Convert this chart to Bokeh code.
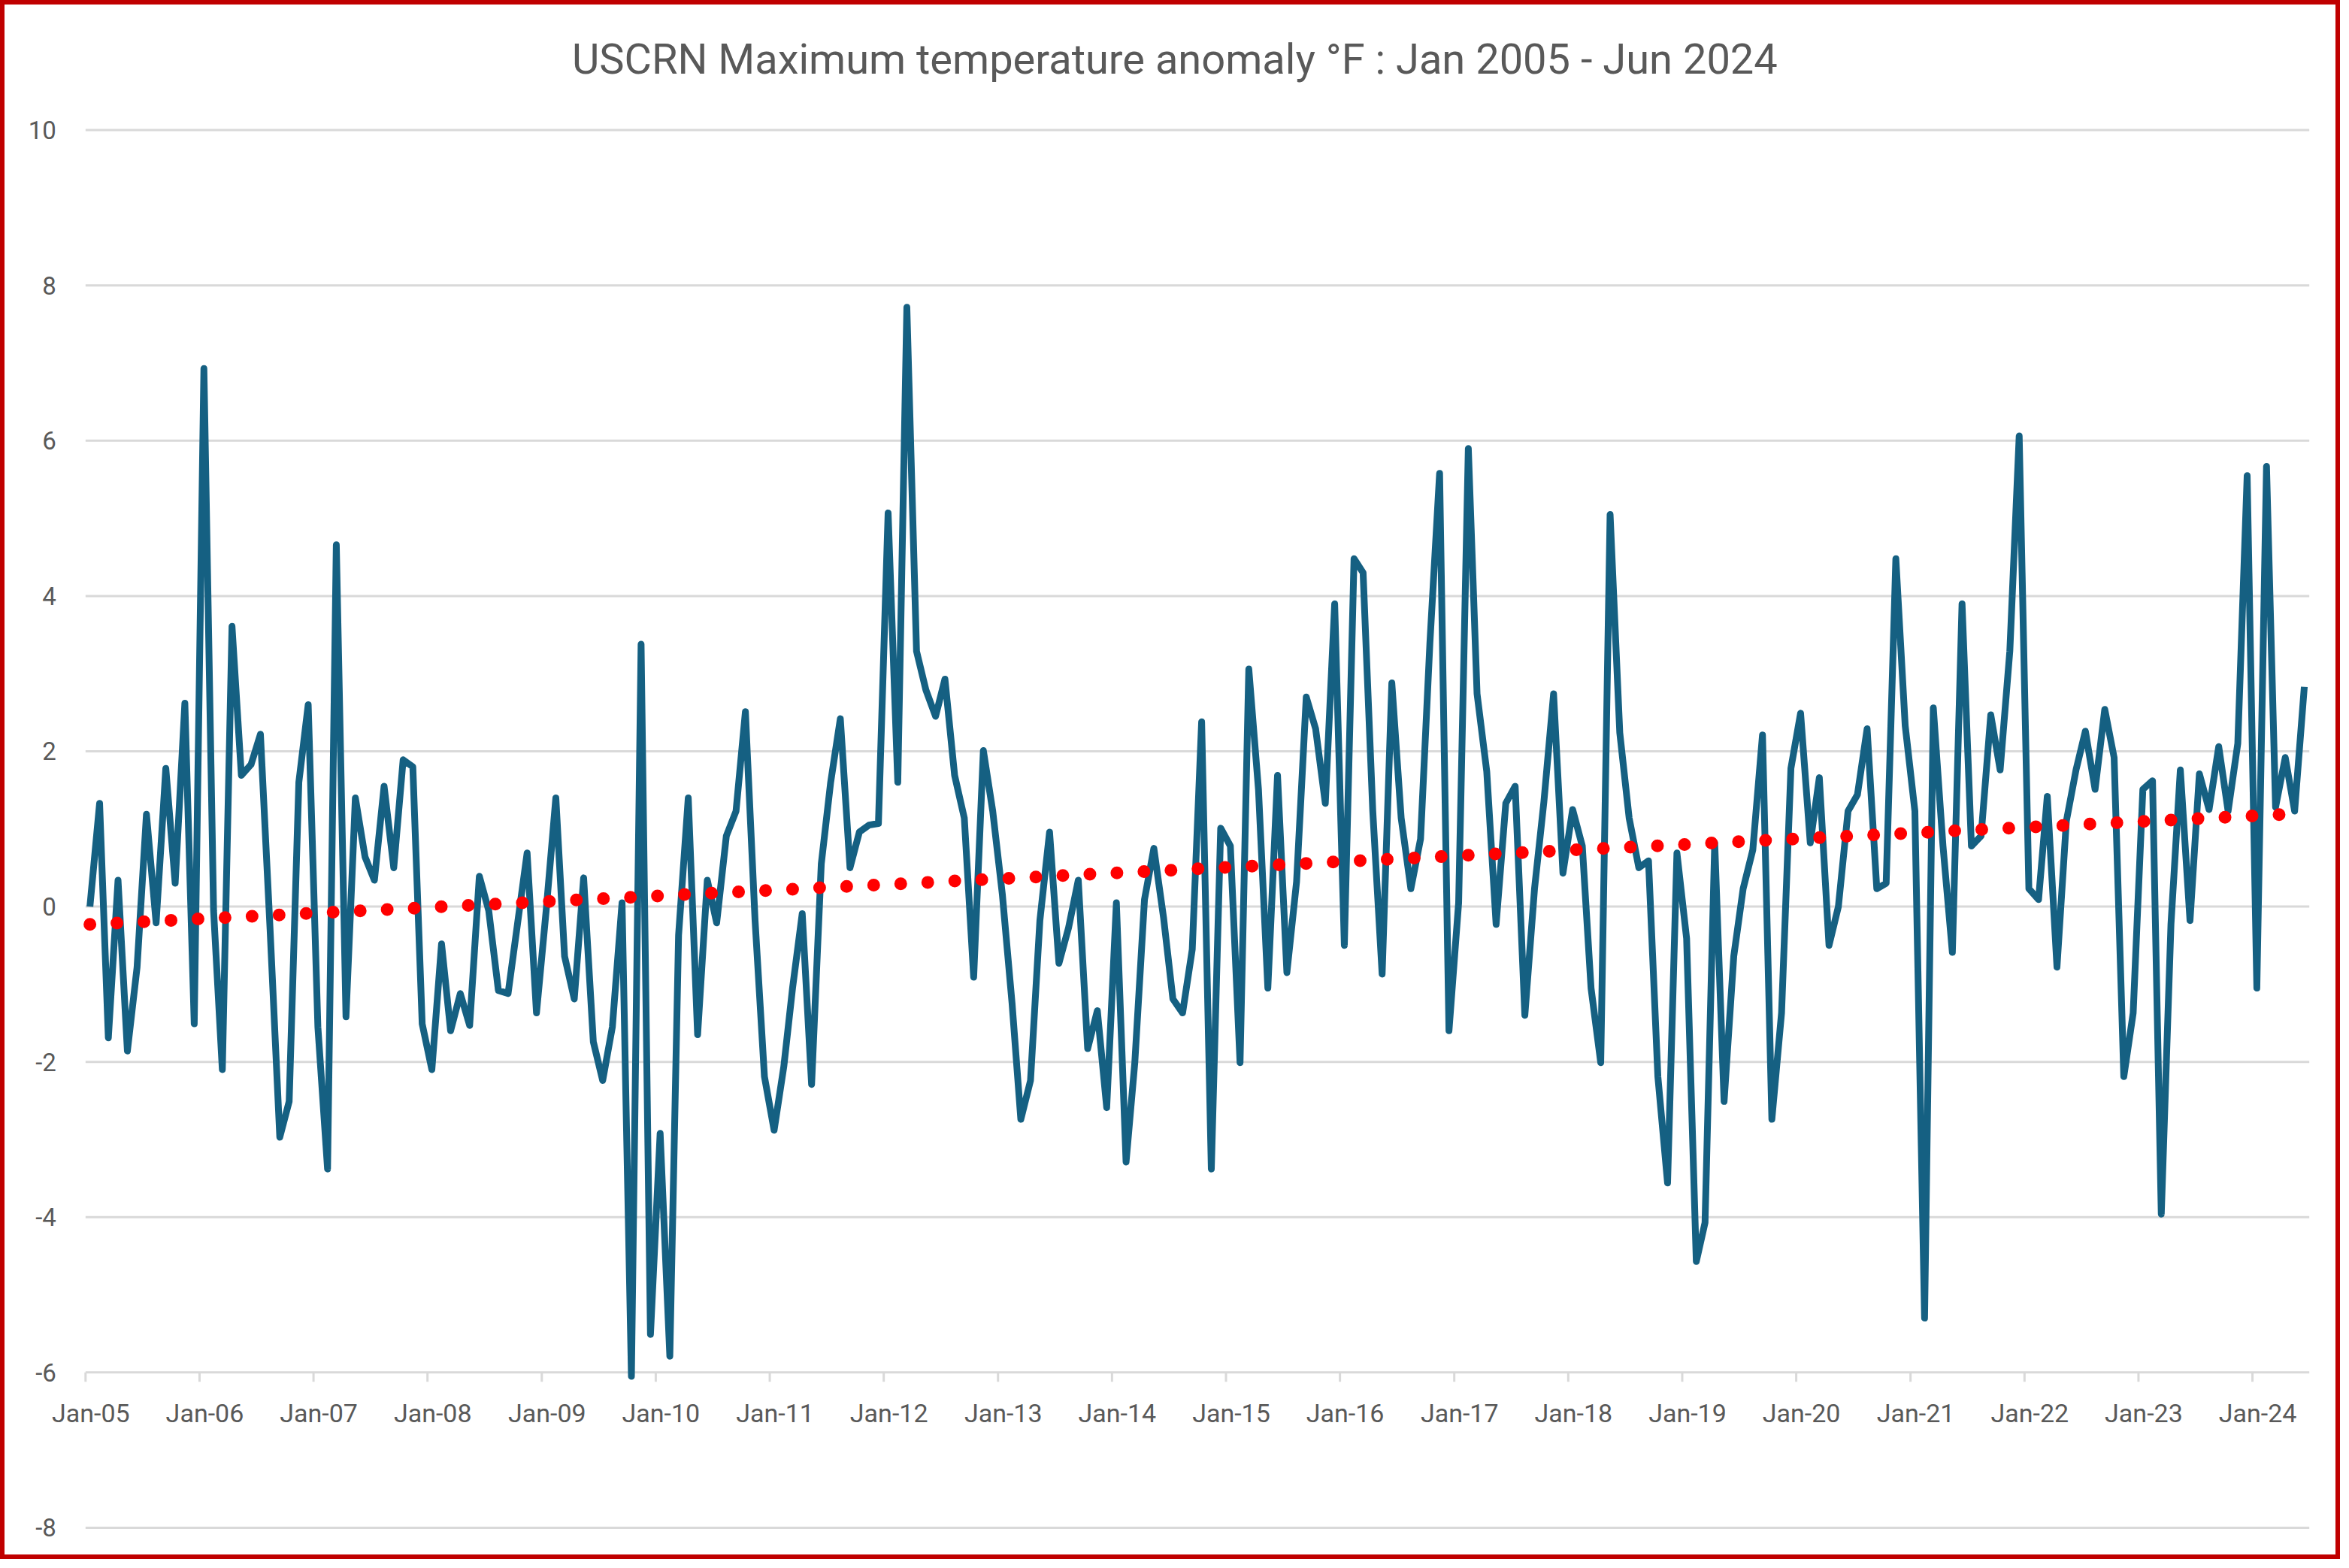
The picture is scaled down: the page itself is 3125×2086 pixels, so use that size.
from datetime import datetime, timedelta
import numpy as np
from bokeh.plotting import figure
from bokeh.models import Range1d
from bokeh.embed import file_html
from bokeh.resources import INLINE
from bokeh.core.properties import value

# ---------------- data ----------------
title_text = "USCRN Maximum temperature anomaly °F : Jan 2005 - Jun 2024"
start_year = 2005
start_month = 1
anomaly = [
    # 2005
    0.00, 1.33, -1.69, 0.34, -1.86, -0.78, 1.19, -0.21, 1.78, 0.30, 2.62, -1.51,
    # 2006
    6.93, -0.05, -2.10, 3.61, 1.69, 1.83, 2.22, -0.30, -2.97, -2.51, 1.60, 2.60,
    # 2007
    -1.55, -3.38, 4.66, -1.42, 1.40, 0.64, 0.34, 1.55, 0.50, 1.89, 1.80, -1.51,
    # 2008
    -2.10, -0.48, -1.60, -1.12, -1.53, 0.39, -0.05, -1.08, -1.12, -0.23, 0.69, -1.37,
    # 2009
    -0.05, 1.40, -0.64, -1.19, 0.37, -1.74, -2.24, -1.55, 0.05, -6.05, 3.38, -5.51,
    # 2010
    -2.92, -5.79, -0.37, 1.40, -1.65, 0.34, -0.21, 0.91, 1.23, 2.51, -0.18, -2.19,
    # 2011
    -2.88, -2.06, -1.05, -0.09, -2.29, 0.55, 1.60, 2.42, 0.50, 0.96, 1.05, 1.07,
    # 2012
    5.07, 1.60, 7.72, 3.29, 2.79, 2.45, 2.93, 1.69, 1.14, -0.91, 2.01, 1.23,
    # 2013
    0.15, -1.25, -2.74, -2.24, -0.18, 0.96, -0.73, -0.27, 0.34, -1.83, -1.34, -2.59,
    # 2014
    0.05, -3.29, -2.01, 0.09, 0.75, -0.14, -1.19, -1.37, -0.55, 2.38, -3.38, 1.01,
    # 2015
    0.78, -2.01, 3.06, 1.51, -1.05, 1.69, -0.85, 0.32, 2.70, 2.29, 1.33, 3.90,
    # 2016
    -0.50, 4.48, 4.30, 1.23, -0.87, 2.88, 1.14, 0.23, 0.87, 3.40, 5.58, -1.60,
    # 2017
    0.05, 5.90, 2.74, 1.74, -0.23, 1.33, 1.55, -1.40, 0.23, 1.35, 2.74, 0.43,
    # 2018
    1.25, 0.78, -1.05, -2.01, 5.05, 2.24, 1.14, 0.50, 0.59, -2.19, -3.56, 0.69,
    # 2019
    -0.41, -4.57, -4.07, 0.82, -2.51, -0.64, 0.23, 0.73, 2.21, -2.74, -1.37, 1.78,
    # 2020
    2.49, 0.82, 1.66, -0.50, 0.00, 1.23, 1.44, 2.29, 0.23, 0.30, 4.48, 2.33,
    # 2021
    1.23, -5.30, 2.56, 0.78, -0.59, 3.90, 0.78, 0.91, 2.47, 1.76, 3.29, 6.06,
    # 2022
    0.23, 0.09, 1.42, -0.78, 1.10, 1.76, 2.26, 1.51, 2.54, 1.92, -2.19, -1.37,
    # 2023
    1.51, 1.62, -3.96, -0.23, 1.76, -0.18, 1.71, 1.25, 2.06, 1.23, 2.10, 5.55,
    # 2024
    -1.05, 5.67, 1.28, 1.92, 1.23, 2.83,
]
y_ticks = [-8, -6, -4, -2, 0, 2, 4, 6, 8, 10]
y_tick_labels = [str(v) for v in y_ticks]
x_tick_years = list(range(2005, 2025))
x_tick_labels = ["Jan-%02d" % (y % 100) for y in x_tick_years]
x_axis_value = -6
x_start = datetime(2005, 1, 1)
x_end = datetime(2024, 7, 1)

# ---------------- derived ----------------
dates = []
for i in range(len(anomaly)):
    yy = start_year + (start_month - 1 + i) // 12
    mm = (start_month - 1 + i) % 12 + 1
    dates.append(datetime(yy, mm, 15))

t_days = np.array([(d - dates[0]).days for d in dates], dtype=float)
coef = np.polyfit(t_days, np.array(anomaly), 1)
trend_ends = [float(np.polyval(coef, t_days[0])), float(np.polyval(coef, t_days[-1]))]

tick_dates = [datetime(y, 1, 1) for y in x_tick_years]

FONT = "Roboto"
TXT = "#595959"
GRID = "#D9D9D9"

# canvas geometry: the frame fills the whole canvas; ranges padded so
# that the chart area sits where the reference draws it
pad_left = timedelta(days=258.3)
pad_right = timedelta(days=113.9)
p = figure(
    width=3113, height=2074,
    x_range=Range1d(x_start - pad_left, x_end + pad_right),
    y_range=Range1d(-8.465, 11.613),
    x_axis_type="datetime", x_axis_location=None, y_axis_location=None,
    output_backend="svg", toolbar_location=None,
    min_border=0,
    background_fill_color="white", border_fill_color="white",
    outline_line_color=None,
)
p.styles = {"border": "6px solid #C00000"}
for g in p.grid:
    g.visible = False

# horizontal gridlines
p.segment(x0=[x_start] * len(y_ticks), y0=y_ticks,
          x1=[x_end] * len(y_ticks), y1=y_ticks,
          line_color=GRID, line_width=3)

# y tick labels
p.text(x=[x_start] * len(y_ticks), y=y_ticks, text=y_tick_labels,
       x_offset=-39, text_align="right", text_baseline="middle",
       text_font=value(FONT), text_font_size="33px", text_color=TXT)

# x-axis tick marks at the axis crossing value
p.segment(x0=tick_dates, y0=[x_axis_value] * len(tick_dates),
          x1=tick_dates, y1=[x_axis_value - 0.12] * len(tick_dates),
          line_color=GRID, line_width=3)

# x tick labels
p.text(x=tick_dates, y=[x_axis_value] * len(tick_dates), text=x_tick_labels,
       x_offset=7, y_offset=54, text_align="center", text_baseline="alphabetic",
       text_font=value(FONT), text_font_size="34px", text_color=TXT)

# data series
p.line(dates, anomaly, line_color="#156082", line_width=9, line_join="round")

# linear trendline
p.line([dates[0], dates[-1]], trend_ends, line_color="#FF0000", line_width=17,
       line_dash="0 36", line_cap="round")

# title
title_x = x_start + timedelta(days=3488)
p.text(x=[title_x], y=[10.72], y_offset=-20, text=[title_text], text_align="center",
       text_baseline="alphabetic", text_font=value(FONT),
       text_font_size="56px", text_color=TXT)

open("out.html", "w").write(file_html(p, INLINE))
